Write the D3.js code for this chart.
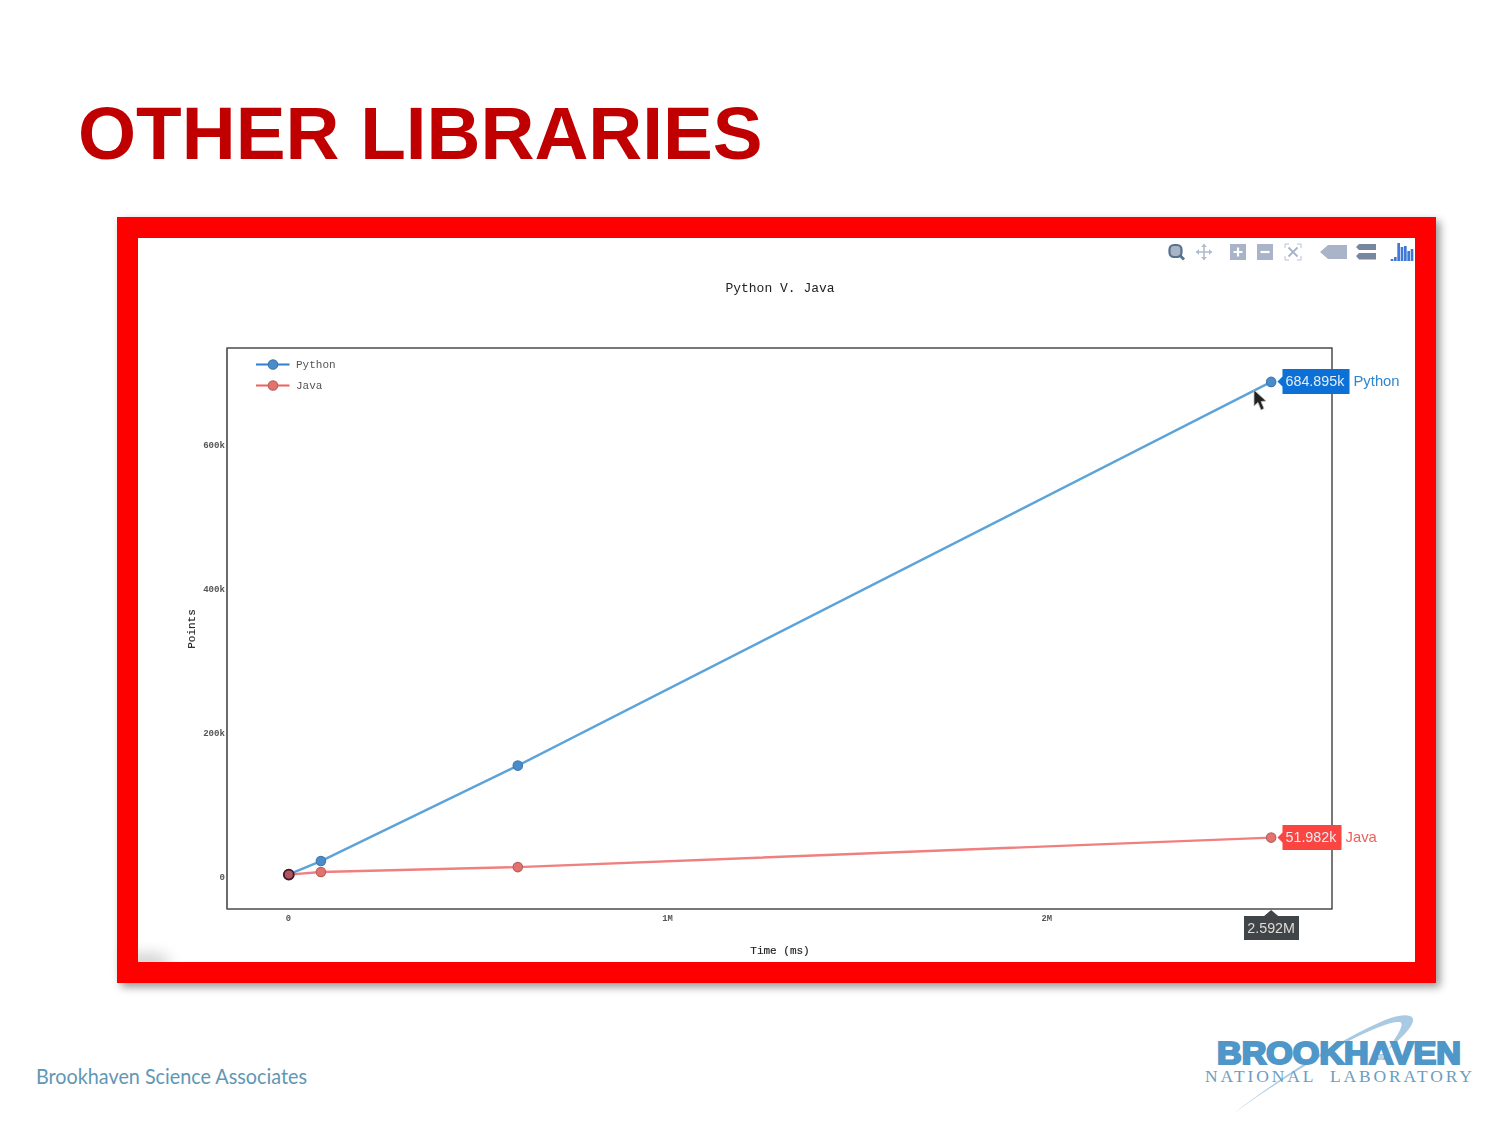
<!DOCTYPE html>
<html>
<head>
<meta charset="utf-8">
<script src="https://cdn.jsdelivr.net/npm/d3@7/dist/d3.min.js"></script>
<style>
html,body{margin:0;padding:0;background:#fff;overflow:hidden}
svg{display:block}
text{white-space:pre}
</style>
</head>
<body>
<svg id="c" width="1500" height="1125" viewBox="0 0 1500 1125"></svg>
<script>
const slideTitle = "OTHER LIBRARIES";
const chartTitle = "Python V. Java";
const xLabel = "Time (ms)";
const yLabel = "Points";
const timeValues = [1000, 85700, 605000, 2592000];
const pythonValues = [1000, 19400, 152000, 684895];
const javaValues = [600, 4200, 11000, 51982];
const xTickValues = [0, 1000000, 2000000];
const xTickLabels = ["0", "1M", "2M"];
const yTickValues = [0, 200000, 400000, 600000];
const yTickLabels = ["0", "200k", "400k", "600k"];
const seriesNames = ["Python", "Java"];
const seriesColors = ["#5ba3d9", "#f08080"];
const markerFills = ["#4a8ccb", "#e2726e"];
const markerStrokes = ["#4178ac", "#b9605e"];
const legendColors = ["#2f7fd0", "#f0605c"];
const flagColors = ["#0a6fd6", "#fb4440"];
const flagLabels = ["684.895k", "51.982k"];
const xFlagLabel = "2.592M";

const svg = d3.select("#c");
const mono = "'Liberation Mono', monospace";
const sans = "'Liberation Sans', sans-serif";
const defs = svg.append("defs");

const sh = defs.append("filter").attr("id","shadow").attr("x","-5%").attr("y","-5%").attr("width","110%").attr("height","110%");
sh.append("feDropShadow").attr("dx",4).attr("dy",4).attr("stdDeviation",4).attr("flood-color","#000").attr("flood-opacity",0.4);
const sb = defs.append("filter").attr("id","soft").attr("x","-60%").attr("y","-60%").attr("width","220%").attr("height","220%");
sb.append("feGaussianBlur").attr("stdDeviation",7);
const lb = defs.append("filter").attr("id","tiny");
lb.append("feGaussianBlur").attr("stdDeviation",0.4);

svg.append("rect").attr("width",1500).attr("height",1125).attr("fill","#fff");

// slide title
svg.append("text").attr("x",78).attr("y",159).attr("font-family",sans).attr("font-weight",700)
  .attr("font-size",74.7).attr("fill","#c00000").text(slideTitle);

// frame
svg.append("rect").attr("x",117).attr("y",217).attr("width",1319).attr("height",766).attr("fill","#f00").attr("filter","url(#shadow)");
svg.append("rect").attr("x",138).attr("y",238).attr("width",1277).attr("height",724).attr("fill","#fff");
svg.append("ellipse").attr("cx",146).attr("cy",962).attr("rx",24).attr("ry",9).attr("fill","#9a9a9a").attr("opacity",0.45).attr("filter","url(#soft)");
svg.append("rect").attr("x",117).attr("y",962).attr("width",1319).attr("height",21).attr("fill","#f00");
svg.append("rect").attr("x",117).attr("y",900).attr("width",21).attr("height",83).attr("fill","#f00");

// scales
const x = d3.scaleLinear().domain([-162000, 2752500]).range([227, 1332]);
const y = d3.scaleLinear().domain([-47200, 732000]).range([909, 348]);

const g = svg.append("g").attr("filter","url(#tiny)");

g.append("text").attr("x",780).attr("y",292).attr("text-anchor","middle").attr("font-family",mono)
  .attr("font-size",13).attr("fill","#222").text(chartTitle);

// box
g.append("rect").attr("x",x.range()[0]).attr("y",y.range()[1]).attr("width",x.range()[1]-x.range()[0]).attr("height",y.range()[0]-y.range()[1])
  .attr("fill","none").attr("stroke","#222").attr("stroke-width",1.2);
g.append("line").attr("x1",227).attr("x2",227).attr("y1",348).attr("y2",909).attr("stroke","#666").attr("stroke-width",1.5);

// axes
const xAxis = d3.axisBottom(x).tickValues(xTickValues).tickFormat((d,i)=>xTickLabels[i]).tickSize(0).tickPadding(6);
const xg = g.append("g").attr("transform","translate(-0.5,909)").call(xAxis);
xg.select(".domain").remove();
xg.selectAll("text").attr("font-family",mono).attr("font-size",8.8).attr("font-weight",700).attr("fill","#555");
const yAxis = d3.axisLeft(y).tickValues(yTickValues).tickFormat((d,i)=>yTickLabels[i]).tickSize(0).tickPadding(2);
const yg = g.append("g").attr("transform","translate(227,0)").call(yAxis);
yg.select(".domain").remove();
yg.selectAll("text").attr("font-family",mono).attr("font-size",9.1).attr("font-weight",700).attr("fill","#555").attr("dy","0.5em");

g.append("text").attr("x",780).attr("y",953.5).attr("text-anchor","middle").attr("font-family",mono)
  .attr("font-size",11).attr("fill","#222").attr("stroke","#222").attr("stroke-width",0.15).text(xLabel);
g.append("text").attr("transform","translate(195,629) rotate(-90)").attr("text-anchor","middle").attr("font-family",mono)
  .attr("font-size",11).attr("fill","#222").attr("stroke","#222").attr("stroke-width",0.15).text(yLabel);

// series
const line = d3.line().x((d,i)=>x(timeValues[i])).y(d=>y(d));
[pythonValues, javaValues].forEach((vals,s)=>{
  g.append("path").datum(vals).attr("d",line).attr("fill","none").attr("stroke",seriesColors[s]).attr("stroke-width",2.4);
});
[pythonValues, javaValues].forEach((vals,s)=>{
  g.selectAll(null).data(vals).enter().append("circle")
    .attr("cx",(d,i)=>x(timeValues[i])).attr("cy",d=>y(d)).attr("r",4.7)
    .attr("fill",markerFills[s]).attr("stroke",markerStrokes[s]).attr("stroke-width",1.2);
});
// overlapped origin marker
g.append("circle").attr("cx",x(timeValues[0])).attr("cy",y(javaValues[0])).attr("r",5)
  .attr("fill","#b5525f").attr("stroke","#3a1a2a").attr("stroke-width",1.8);

// legend
const legY = [364.5, 385.5];
seriesNames.forEach((n,i)=>{
  g.append("line").attr("x1",256).attr("x2",289.5).attr("y1",legY[i]).attr("y2",legY[i]).attr("stroke",legendColors[i]).attr("stroke-width",2.2);
  g.append("circle").attr("cx",273).attr("cy",legY[i]).attr("r",4.7).attr("fill",markerFills[i]).attr("stroke",markerStrokes[i]).attr("stroke-width",1.2);
  g.append("text").attr("x",296).attr("y",legY[i]+3.5).attr("font-family",mono).attr("font-size",11).attr("fill","#555").text(n);
});

// hover flags
const lastIdx = timeValues.length-1;
const flagW = [67, 59];
const nameColors = ["#2f86cf", "#ee5f5c"];
const nameX = [1353.5, 1345.5];
[pythonValues, javaValues].forEach((vals,s)=>{
  const cy = Math.round(y(vals[lastIdx]))-0.5;
  const cyText = cy+4.5;
  const l = 1282.5, r = l+flagW[s];
  g.append("path").attr("d",`M${l-5} ${cy} L${l} ${cy-5} L${l} ${cy-12.5} L${r} ${cy-12.5} L${r} ${cy+12.5} L${l} ${cy+12.5} L${l} ${cy+5} Z`).attr("fill",flagColors[s]);
  g.append("text").attr("x",l+3).attr("y",cyText).attr("font-family",sans).attr("font-size",14.3).attr("fill","#e6eef6").text(flagLabels[s]);
  g.append("text").attr("x",nameX[s]).attr("y",cyText).attr("font-family",sans).attr("font-size",14.8).attr("fill",nameColors[s]).text(seriesNames[s]);
});
const fx = x(timeValues[lastIdx]);
g.append("path").attr("d",`M${fx} 910 L${fx+7} 916 L1299 916 L1299 940 L1244 940 L1244 916 L${fx-7} 916 Z`).attr("fill","#434547");
g.append("text").attr("x",fx).attr("y",932.5).attr("text-anchor","middle").attr("font-family",sans).attr("font-size",14.3).attr("fill","#dcdcdc").text(xFlagLabel);

// cursor
g.append("path").attr("d","M1254 390 L1254 406 L1258 402.5 L1261 410 L1264 408.5 L1261 401.5 L1266 401 Z").attr("fill","#222").attr("stroke","#bbb").attr("stroke-width",0.8);

// toolbar
const tb = g.append("g");
tb.append("rect").attr("x",1169.5).attr("y",245).attr("width",12).attr("height",12).attr("rx",4.5).attr("fill","#a9b4c6").attr("stroke","#56708f").attr("stroke-width",2.2);
tb.append("line").attr("x1",1179.5).attr("y1",255).attr("x2",1184).attr("y2",259.5).attr("stroke","#56708f").attr("stroke-width",2.8);
tb.append("path").attr("d","M1196 252 H1212 M1204 244 V260").attr("stroke","#b0bbcd").attr("stroke-width",1.6);
tb.append("path").attr("d","M1196 252 l3 -3 v6 Z M1212 252 l-3 -3 v6 Z M1204 244 l-3 3 h6 Z M1204 260 l-3 -3 h6 Z").attr("fill","#b0bbcd");
tb.append("rect").attr("x",1230).attr("y",244).attr("width",16).attr("height",16).attr("fill","#a9b4c9");
tb.append("path").attr("d","M1233.5 252 H1242.5 M1238 247.5 V256.5").attr("stroke","#fff").attr("stroke-width",2.2);
tb.append("rect").attr("x",1257).attr("y",244).attr("width",16).attr("height",16).attr("fill","#a9b4c9");
tb.append("path").attr("d","M1260.5 252 H1269.5").attr("stroke","#fff").attr("stroke-width",2.2);
tb.append("path").attr("d","M1285 248 V244 H1289 M1297 244 H1301 V248 M1301 256 V260 H1297 M1289 260 H1285 V256").attr("fill","none").attr("stroke","#b8c1d0").attr("stroke-width",1);
tb.append("path").attr("d","M1288.5 247.5 L1297.5 256.5 M1297.5 247.5 L1288.5 256.5").attr("stroke","#a9b4c9").attr("stroke-width",1.8);
tb.append("path").attr("d","M1320 252 L1328 245 H1347 V259 H1328 Z").attr("fill","#a9b4c9");
tb.append("path").attr("d","M1359 244 H1376 V250 H1359 L1356 247 Z M1359 253 H1376 V259.5 H1359 L1356 256 Z").attr("fill","#7887a0");
const barH = [2,4,18,14,15,10,12];
const barsX = d3.scaleBand().domain(d3.range(barH.length)).range([1390,1414]).padding(0.2);
tb.selectAll(null).data(barH).enter().append("rect")
  .attr("x",(d,i)=>barsX(i)).attr("width",barsX.bandwidth()).attr("y",d=>261-d).attr("height",d=>d).attr("fill","#3f78d6");

// footer
svg.append("text").attr("x",36).attr("y",1083.5).attr("font-family","Lato, 'Open Sans', sans-serif").attr("font-size",21.5)
  .attr("fill","#5f97b5").attr("textLength",271).attr("lengthAdjust","spacingAndGlyphs").text("Brookhaven Science Associates");

// logo
const logo = svg.append("g");
logo.append("path").attr("d","M1233 1114 C1290 1070 1340 1040 1385 1020 C1400 1014 1412 1014 1413 1019 C1414 1026 1403 1036 1388 1050 C1398 1034 1405 1024 1400 1022 C1380 1020 1300 1065 1233 1114 Z")
  .attr("fill","#a8cbe3");
logo.append("text").attr("x",1217).attr("y",1063.5).attr("font-family",sans).attr("font-weight",700).attr("font-size",31)
  .attr("fill","#4f96c9").attr("stroke","#4f96c9").attr("stroke-width",2.2)
  .attr("textLength",244).attr("lengthAdjust","spacingAndGlyphs").text("BROOKHAVEN");
logo.append("circle").attr("cx",1381).attr("cy",1057).attr("r",3).attr("fill","#bcd6e8");
logo.append("text").attr("x",1205).attr("y",1081.5).attr("font-family","'Liberation Serif', serif").attr("font-size",17.5)
  .attr("fill","#6d9dbd").attr("textLength",267).attr("lengthAdjust","spacing").text("NATIONAL  LABORATORY");
</script>
</body>
</html>
